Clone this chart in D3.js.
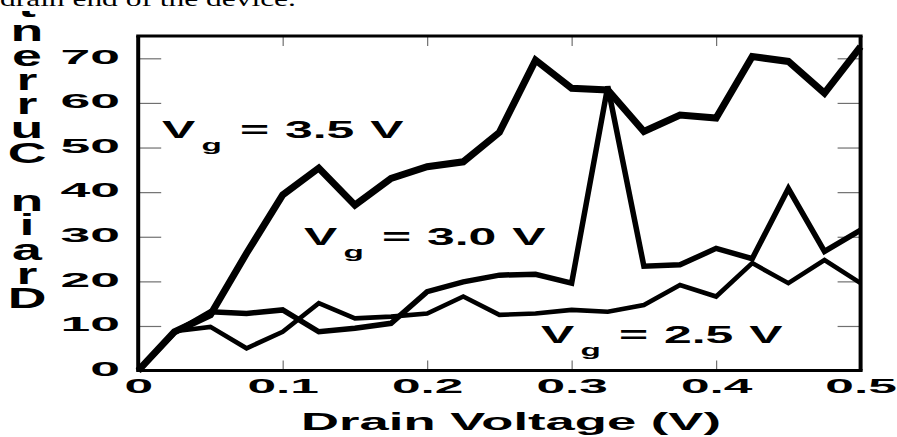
<!DOCTYPE html>
<html>
<head>
<meta charset="utf-8">
<script src="https://cdn.jsdelivr.net/npm/d3@7/dist/d3.min.js"></script>
<style>
  body { margin: 0; background: #fff; }
  text { font-family: "Liberation Sans", Arial, Helvetica, sans-serif; font-weight: bold; fill: #000; }
</style>
</head>
<body>
<svg id="chart" width="897" height="437"></svg>
<script>
// drain voltage steps (V)
const drainV = [0, 0.025, 0.05, 0.075, 0.1, 0.125, 0.15, 0.175, 0.2, 0.225, 0.25,
                0.275, 0.3, 0.325, 0.35, 0.375, 0.4, 0.425, 0.45, 0.475, 0.5];
// drain current
const vg35 = [0, 8.7, 12.5, 26.3, 39.4, 45.4, 37.1, 43.1, 45.7, 46.8, 53.4,
              69.6, 63.3, 62.9, 53.6, 57.3, 56.6, 70.4, 69.3, 62.2, 72.6];
const vg30 = [0, 8.5, 13.2, 12.8, 13.6, 8.7, 9.5, 10.6, 17.7, 19.9, 21.4,
              21.6, 19.6, 63.7, 23.4, 23.7, 27.4, 25.1, 40.8, 26.7, 31.5];
const vg25 = [0, 8.8, 9.8, 5.0, 8.7, 15.1, 11.7, 12.1, 12.8, 16.6, 12.5,
              12.8, 13.6, 13.2, 14.7, 19.2, 16.6, 24.1, 19.6, 24.8, 19.6];

const xTicks = [0, 0.1, 0.2, 0.3, 0.4, 0.5];
const yTicks = [0, 10, 20, 30, 40, 50, 60, 70];
const gateLabels = ["3.5", "3.0", "2.5"];
const xTitle = "Drain Voltage (V)";
const yTitle = "Drain Current";
const caption = "drain end of the device.";

const svg = d3.select("#chart");

var x = d3.scaleLinear().domain([0, 0.5]).range([138.2, 860.6]);
var y = d3.scaleLinear().domain([0, 75]).range([370.6, 36]);

// cut-off caption line at the very top
svg.append("text")
    .attr("transform", "translate(0,6) scale(1.43,1)")
    .style("font-family", '"Liberation Serif", "Times New Roman", serif')
    .style("font-weight", "normal")
    .style("font-size", "22px")
    .text(caption);

// inner ticks, grey
function styleTicks(g) {
    g.select(".domain").remove();
    g.selectAll(".tick line").attr("stroke", "#707070").attr("stroke-width", 1.2);
}

var yLeft = svg.append("g")
    .attr("transform", "translate(" + x(0) + ",0)")
    .call(d3.axisLeft(y).tickValues(yTicks).tickSize(-23).tickFormat(d => String(d)))
    .call(styleTicks);
yLeft.selectAll(".tick").filter(d => d === 0).select("line").remove();
yLeft.selectAll(".tick text")
    .attr("x", 0).attr("dy", 0)
    .attr("text-anchor", "end")
    .attr("transform", "translate(" + (120 - x(0)) + ",4.8) scale(2.55,1)")
    .style("font-size", "21px")
    .style("font-family", '"Liberation Sans", Arial, sans-serif');

svg.append("g")
    .attr("transform", "translate(" + x(0.5) + ",0)")
    .call(d3.axisRight(y).tickValues(yTicks.slice(1)).tickSize(-23).tickFormat(""))
    .call(styleTicks);

svg.append("g")
    .attr("transform", "translate(0," + y(75) + ")")
    .call(d3.axisTop(x).tickValues(xTicks.slice(1, -1)).tickSize(-10).tickFormat(""))
    .call(styleTicks);

var xBottom = svg.append("g")
    .attr("transform", "translate(0," + y(0) + ")")
    .call(d3.axisBottom(x).tickValues(xTicks).tickSize(-10).tickFormat(d => String(d)))
    .call(styleTicks);
xBottom.selectAll(".tick").filter(d => d === 0 || d === 0.5).select("line").remove();
xBottom.selectAll(".tick text")
    .attr("y", 0).attr("dy", 0)
    .attr("text-anchor", "middle")
    .attr("transform", "translate(0,22.5) scale(2.45,1)")
    .style("font-size", "21px")
    .style("font-family", '"Liberation Sans", Arial, sans-serif');

// curves
var line = d3.line()
    .x((d, i) => x(drainV[i]))
    .y(d => y(d));

var series = [
    {name: "3.0", values: vg30, width: 5.5},
    {name: "2.5", values: vg25, width: 4.6},
    {name: "3.5", values: vg35, width: 7}
];

svg.selectAll("path.curve")
    .data(series)
    .enter()
    .append("path")
    .attr("class", "curve")
    .attr("d", d => line(d.values))
    .attr("fill", "none")
    .attr("stroke", "#000")
    .attr("stroke-width", d => d.width)
    .attr("stroke-linejoin", "miter")
    .attr("stroke-miterlimit", 3);

// frame
const fx0 = x(0), fx1 = x(0.5), fy0 = y(0), fy1 = y(75);
[[fx0, fy1, fx0, fy0, 4], [fx1, fy1, fx1, fy0, 4],
 [fx0 - 2, fy1, fx1 + 2, fy1, 3], [fx0 - 2, fy0, fx1 + 2, fy0, 3]].forEach(s => {
    svg.append("line")
        .attr("x1", s[0]).attr("y1", s[1]).attr("x2", s[2]).attr("y2", s[3])
        .attr("stroke", "#000").attr("stroke-width", s[4]);
});

// gate voltage labels
var labelPos = [[162, 138], [304, 245], [541, 343]];
gateLabels.forEach(function(v, i) {
    var t = svg.append("text")
        .attr("transform", "translate(" + labelPos[i][0] + "," + labelPos[i][1] + ") scale(2.08,1)")
        .style("font-size", "24px")
        .style("word-spacing", "1px");
    t.append("tspan").text("V");
    t.append("tspan").attr("dx", 3).attr("dy", 13).style("font-size", "16px").text("g");
    t.append("tspan").attr("dy", -13).attr("dx", 1).text(" = " + v + " V");
});

// axis titles
svg.append("text")
    .attr("transform", "translate(511,430) scale(2.22,1)")
    .attr("text-anchor", "middle")
    .style("font-size", "23.7px")
    .text(xTitle);

svg.append("clipPath").attr("id", "ytclip")
    .append("rect").attr("x", 0).attr("y", 11).attr("width", 60).attr("height", 320);

svg.append("g")
    .attr("clip-path", "url(#ytclip)")
    .selectAll("text")
    .data(yTitle.split(""))
    .enter()
    .append("text")
    .attr("text-anchor", "middle")
    .attr("transform", (d, i) => "translate(27," + (308 - i * 24.25) + ") scale(1.85,1)")
    .style("font-size", "29px")
    .text(d => d);
</script>
</body>
</html>
